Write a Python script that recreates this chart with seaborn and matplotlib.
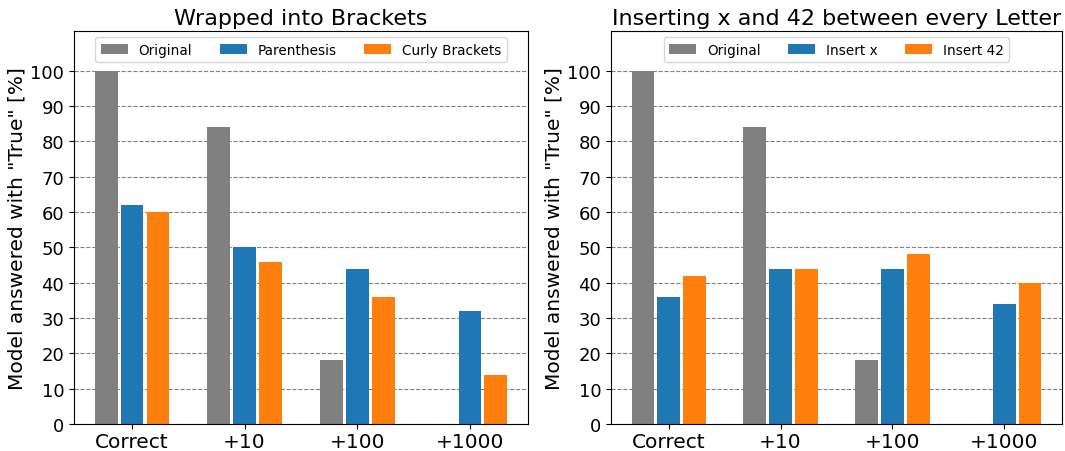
import matplotlib
matplotlib.use("Agg")
import matplotlib.pyplot as plt
import pandas as pd
import seaborn as sns

categories = ["Correct", "+10", "+100", "+1000"]

# Left panel: bracket wrapping
left_series = ["Original", "Parenthesis", "Curly Brackets"]
left_original = [100, 84, 18, 0]
left_parenthesis = [62, 50, 44, 32]
left_curly = [60, 46, 36, 14]

# Right panel: inserted characters
right_series = ["Original", "Insert x", "Insert 42"]
right_original = [100, 84, 18, 0]
right_insert_x = [36, 44, 44, 34]
right_insert_42 = [42, 44, 48, 40]

colors = ["#808080", "#1f77b4", "#ff7f0e"]
yticks = list(range(0, 101, 10))


def long_frame(names, values):
    rows = []
    for name, vals in zip(names, values):
        for cat, v in zip(categories, vals):
            rows.append({"category": cat, "series": name, "value": v})
    return pd.DataFrame(rows)


left_df = long_frame(left_series, [left_original, left_parenthesis, left_curly])
right_df = long_frame(right_series, [right_original, right_insert_x, right_insert_42])

W, H = 1065, 452
fig = plt.figure(figsize=(W / 100, H / 100), dpi=100)
ax_left = fig.add_axes([74 / W, 1 - 425 / H, 454 / W, 393.5 / H])
ax_right = fig.add_axes([611 / W, 1 - 425 / H, 451 / W, 393.5 / H])

panels = [
    (ax_left, left_df, left_series, "Wrapped into Brackets"),
    (ax_right, right_df, right_series, "Inserting x and 42 between every Letter"),
]

for ax, df, names, title in panels:
    sns.barplot(
        data=df, x="category", y="value", hue="series",
        order=categories, hue_order=names, palette=colors,
        width=0.69, gap=0.12, ax=ax, errorbar=None, saturation=1,
    )
    ax.set_axisbelow(True)
    ax.yaxis.grid(True, linestyle="--", color="gray", linewidth=0.8)
    ax.set_ylim(0, 111.4)
    ax.set_xlim(-0.515, 3.515)
    ax.set_yticks(yticks)
    ax.tick_params(axis="y", labelsize=13)
    ax.tick_params(axis="x", labelsize=14.5, pad=2)
    ax.set_xlabel("")
    ax.set_ylabel('Model answered with "True" [%]', fontsize=14.5)
    ax.yaxis.set_label_coords(-47 / ax.bbox.width, 0.5)
    ax.set_title(title, fontsize=16, pad=5)
    for sp in ax.spines.values():
        sp.set_color("black")
    ax.legend(loc="upper center", ncol=3, fontsize=9.8, title=None)

fig.savefig("out.png", dpi=100)
